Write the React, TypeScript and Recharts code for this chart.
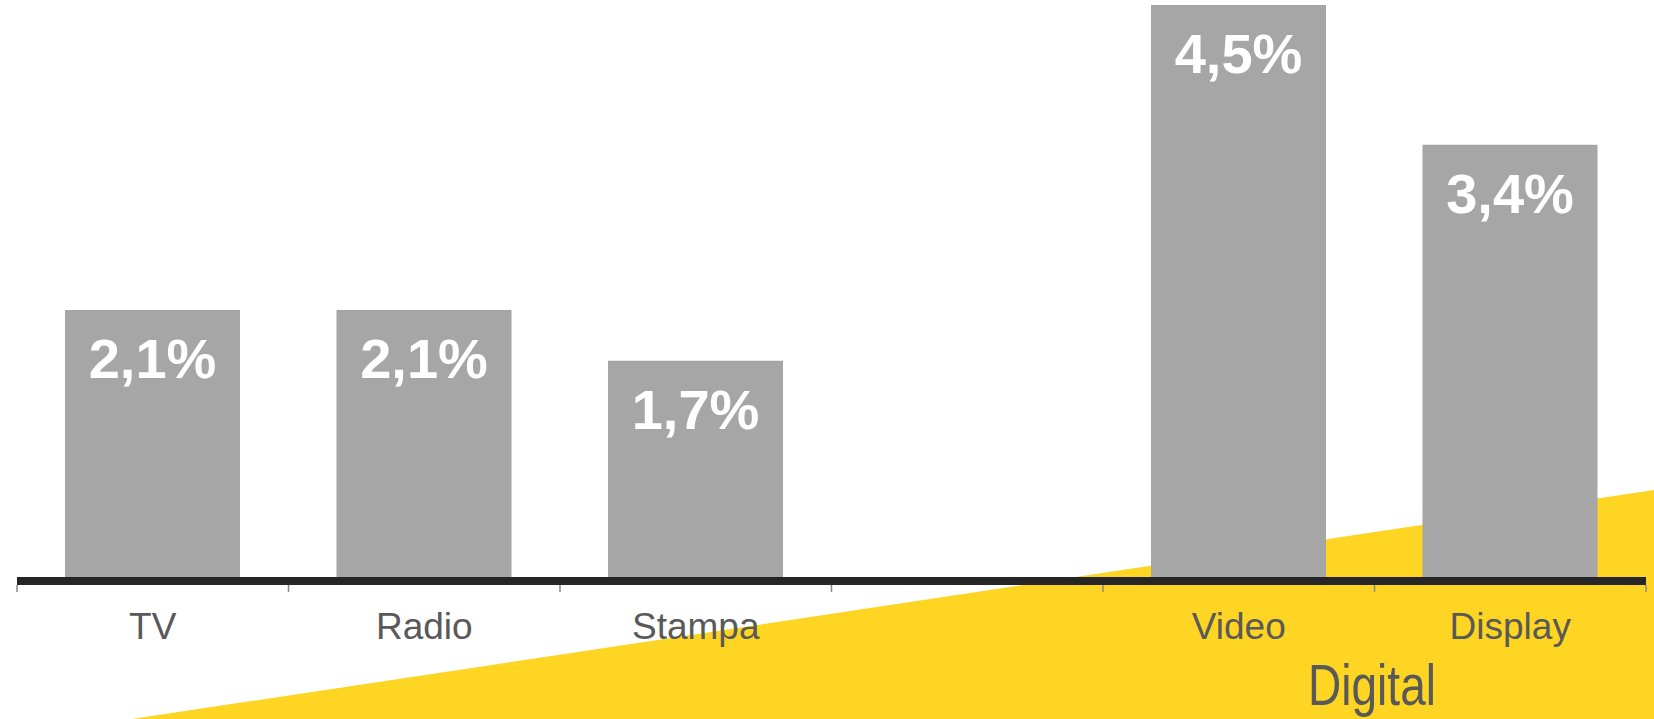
import { BarChart, Bar, XAxis, YAxis, LabelList } from 'recharts'

const categories = ['TV', 'Radio', 'Stampa', '', 'Video', 'Display']
const values: (number | null)[] = [2.1, 2.1, 1.7, null, 4.5, 3.4]
const groupLabel = 'Digital'

const data = categories.map((name, i) => ({ name, value: values[i] }))

const W = 1654
const H = 719
const TICK_SIZE = 11
const TICK_MARGIN = 21

const formatPct = (v: unknown) =>
  v == null || v === '' ? '' : `${String(v).replace('.', ',')}%`

// category label plus Excel-style tick marks on the band edges
function EdgeTick(props: any) {
  const { x, y, payload, index } = props
  const half = payload?.offset ?? 0
  const top = y - TICK_MARGIN - TICK_SIZE + 4
  const bottom = y - TICK_MARGIN
  const last = index === categories.length - 1
  return (
    <g>
      <line x1={x - half} x2={x - half} y1={top} y2={bottom} stroke="#8a8a8a" strokeWidth={1.5} />
      {last && (
        <line x1={x + half} x2={x + half} y1={top} y2={bottom} stroke="#8a8a8a" strokeWidth={1.5} />
      )}
      <text x={x} y={y} dy="0.71em" textAnchor="middle" fill="#595959" fontSize={37}>
        {payload.value}
      </text>
    </g>
  )
}

export default function App() {
  return (
    <div
      style={{
        position: 'absolute',
        left: 0,
        top: 0,
        width: W,
        height: H,
        background: '#fff',
        fontFamily: '"Liberation Sans", Arial, sans-serif',
      }}
    >
      {/* yellow wedge + group label behind the chart */}
      <svg width={W} height={H} style={{ position: 'absolute', left: 0, top: 0 }}>
        <polygon points={`132,${H} ${W},490 ${W},${H}`} fill="#FDD522" />
        <text
          x={1372}
          y={705}
          textAnchor="middle"
          fill="#595959"
          fontSize={57}
          textLength={128}
          lengthAdjust="spacingAndGlyphs"
        >
          {groupLabel}
        </text>
      </svg>

      <div style={{ position: 'absolute', left: 0, top: 0 }}>
        <BarChart
          width={W}
          height={H}
          data={data}
          margin={{ top: 5, right: 8, bottom: 0, left: 17 }}
          barCategoryGap={0}
        >
          <XAxis
            dataKey="name"
            interval={0}
            axisLine={{ stroke: '#262626', strokeWidth: 8 }}
            tickLine={false}
            tickSize={TICK_SIZE}
            tickMargin={TICK_MARGIN}
            height={138}
            tick={<EdgeTick />}
          />
          <YAxis hide domain={[-0.032, 4.5]} allowDataOverflow />
          <Bar dataKey="value" fill="#A6A6A6" barSize={175} isAnimationActive={false}>
            <LabelList
              dataKey="value"
              position="insideTop"
              offset={28}
              formatter={formatPct}
              fill="#ffffff"
              fontSize={56}
              fontWeight="bold"
            />
          </Bar>
        </BarChart>
      </div>
    </div>
  )
}
